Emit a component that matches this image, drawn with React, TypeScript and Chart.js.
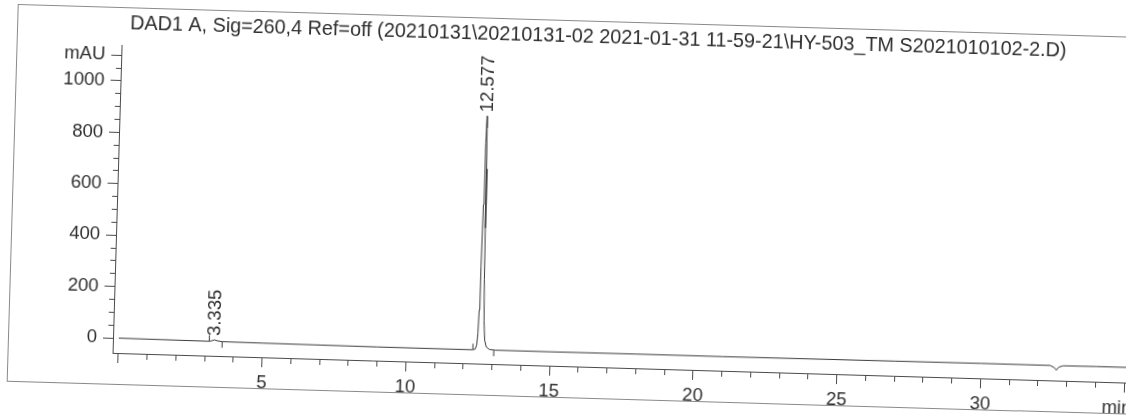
import React, { useEffect, useRef } from 'react';
import { Chart, registerables } from 'chart.js';

Chart.register(...registerables);

// ---------- data ----------
const titleText =
  'DAD1 A, Sig=260,4 Ref=off (20210131\\20210131-02 2021-01-31 11-59-21\\HY-503_TM S2021010102-2.D)';
const yUnit = 'mAU';
const xUnit = 'min';

const traceTimes = [
  0, 1.5, 3.1, 3.15, 3.25, 3.335, 3.42, 3.6, 5, 7, 9, 11, 12.3, 12.4, 12.45, 12.48, 12.5, 12.52,
  12.54, 12.56, 12.577, 12.59, 12.61, 12.63, 12.65, 12.68, 12.72, 12.78, 12.9, 13.1, 15, 18, 21,
  24, 27, 30, 32.4, 32.55, 32.62, 32.7, 32.85, 34, 36,
];
const traceValues = [
  0, -1, -2, -2, 1, 4, 1, -2, -3, -4, -5, -5, -5, -2, 15, 60, 150, 320, 560, 800, 905, 860, 700,
  470, 270, 110, 35, 8, -2, -4, -4, -3, -3, -2, -1, 0, 0, -8, -18, -6, 0, 1, 1,
];

const peakTimes = [3.335, 12.577];
const peakHeights = [4, 905];
const peakLabels = ['3.335', '12.577'];

const markStartTimes = [3.15, 12.32];
const markStartValues = [10, 7];
const markEndTimes = [3.6, 13.05];
const markEndValues = [-14, -16];

const xMajorLabels = [5, 10, 15, 20, 25, 30];
const yMajorLabels = [0, 200, 400, 600, 800, 1000];
const xUnitAt = 34.75;
const yUnitAt = 1100;
const xMin = -0.2;
const xMax = 36;
const yMin = -58;
const yMax = 1140;

// ---------- styles ----------
const FAMILY = '"Liberation Sans", Arial, sans-serif';
const TEXT = '#2e2e2e';
const AXIS = '#4a4a4a';
const TRACE = '#3a3a3a';

const annotatePlugin = {
  id: 'annotate',
  afterDatasetsDraw(chart: any) {
    const { ctx } = chart;
    const xs = chart.scales.x;
    const ys = chart.scales.y;
    ctx.save();
    ctx.fillStyle = TEXT;
    ctx.font = `19.8px ${FAMILY}`;
    ctx.textAlign = 'left';
    ctx.textBaseline = 'middle';
    ctx.fillText(titleText, 125, 37);

    ctx.font = `18.5px ${FAMILY}`;
    for (let i = 0; i < peakTimes.length; i++) {
      const px = xs.getPixelForValue(peakTimes[i]);
      const py = ys.getPixelForValue(peakHeights[i]) - 4;
      ctx.save();
      ctx.translate(px, py);
      ctx.rotate(-Math.PI / 2);
      ctx.textAlign = 'left';
      ctx.textBaseline = 'middle';
      ctx.fillText(peakLabels[i], 0, 0);
      ctx.restore();
    }
    ctx.restore();
  },
};

export default function App() {
  const ref = useRef<HTMLCanvasElement | null>(null);

  useEffect(() => {
    if (!ref.current) return;
    const chart = new Chart(ref.current, {
      type: 'scatter',
      data: {
        datasets: [
          {
            data: traceTimes.map((t, i) => ({ x: t, y: traceValues[i] })),
            showLine: true,
            borderColor: TRACE,
            borderWidth: 1,
            pointRadius: 0,
            tension: 0,
            fill: false,
          },
          {
            data: markStartTimes.map((t, i) => ({ x: t, y: markStartValues[i] })),
            showLine: false,
            pointStyle: 'line',
            rotation: 90,
            radius: 3,
            borderColor: TRACE,
            borderWidth: 1,
          },
          {
            data: markEndTimes.map((t, i) => ({ x: t, y: markEndValues[i] })),
            showLine: false,
            pointStyle: 'line',
            rotation: 90,
            radius: 3,
            borderColor: TRACE,
            borderWidth: 1,
          },
        ],
      },
      options: {
        animation: false,
        responsive: false,
        maintainAspectRatio: false,
        layout: { padding: { left: 0, top: 58, right: 42, bottom: 0 } },
        plugins: {
          legend: { display: false },
          tooltip: { enabled: false },
          title: { display: false },
        },
        scales: {
          x: {
            type: 'linear',
            position: 'bottom',
            min: xMin,
            max: xMax,
            afterBuildTicks: (s: any) => {
              const t: any[] = [];
              for (let v = 0; v <= xMax; v++) t.push({ value: v });
              t.push({ value: xUnitAt });
              t.sort((a, b) => a.value - b.value);
              s.ticks = t;
            },
            afterFit: (s: any) => {
              s.height = 50;
            },
            ticks: {
              autoSkip: false,
              maxRotation: 0,
              minRotation: 0,
              padding: 5,
              color: TEXT,
              font: { family: FAMILY, size: 18.5 },
              callback: (v: any) =>
                v === xUnitAt ? xUnit : xMajorLabels.includes(v) ? String(v) : '',
            },
            grid: {
              drawOnChartArea: false,
              drawTicks: true,
              tickLength: 10,
              tickWidth: 1,
              tickColor: (c: any) =>
                c.tick && c.tick.value === xUnitAt ? 'rgba(0,0,0,0)' : AXIS,
              tickBorderDash: (c: any) =>
                c.tick && c.tick.value % 5 === 0 ? [] : [5, 100],
            },
            border: { display: true, color: AXIS, width: 1 },
          },
          y: {
            type: 'linear',
            min: yMin,
            max: yMax,
            afterBuildTicks: (s: any) => {
              const t: any[] = [];
              for (let v = 0; v <= yUnitAt; v += 50) t.push({ value: v });
              s.ticks = t;
            },
            afterFit: (s: any) => {
              s.width = 117;
            },
            ticks: {
              autoSkip: false,
              padding: 6,
              color: TEXT,
              font: { family: FAMILY, size: 18.5 },
              callback: (v: any) =>
                v === yUnitAt ? yUnit : yMajorLabels.includes(v) ? String(v) : '',
            },
            grid: {
              drawOnChartArea: false,
              drawTicks: true,
              tickLength: 10,
              tickWidth: 1,
              tickColor: AXIS,
              tickBorderDash: (c: any) =>
                c.tick && (c.tick.value % 200 === 0 || c.tick.value === yUnitAt)
                  ? []
                  : [0, 5, 5, 100],
            },
            border: { display: true, color: AXIS, width: 1 },
          },
        },
      } as any,
      plugins: [annotatePlugin],
    });
    return () => chart.destroy();
  }, []);

  return (
    <div
      style={{
        position: 'fixed',
        left: 0,
        top: 0,
        width: 1126,
        height: 416,
        overflow: 'hidden',
        background: '#ffffff',
      }}
    >
      <div
        style={{
          position: 'absolute',
          left: 0,
          top: 0,
          width: 1200,
          height: 416,
          transformOrigin: '563px 208px',
          transform: 'rotate(1.68deg)',
        }}
      >
        <div
          style={{
            position: 'absolute',
            left: 12,
            top: 20,
            width: 1400,
            height: 378,
            border: '1px solid #8a8a8a',
            boxSizing: 'border-box',
          }}
        />
        <canvas
          ref={ref}
          width={1200}
          height={416}
          style={{ position: 'absolute', left: 0, top: 0, width: 1200, height: 416, display: 'block' }}
        />
      </div>
    </div>
  );
}
